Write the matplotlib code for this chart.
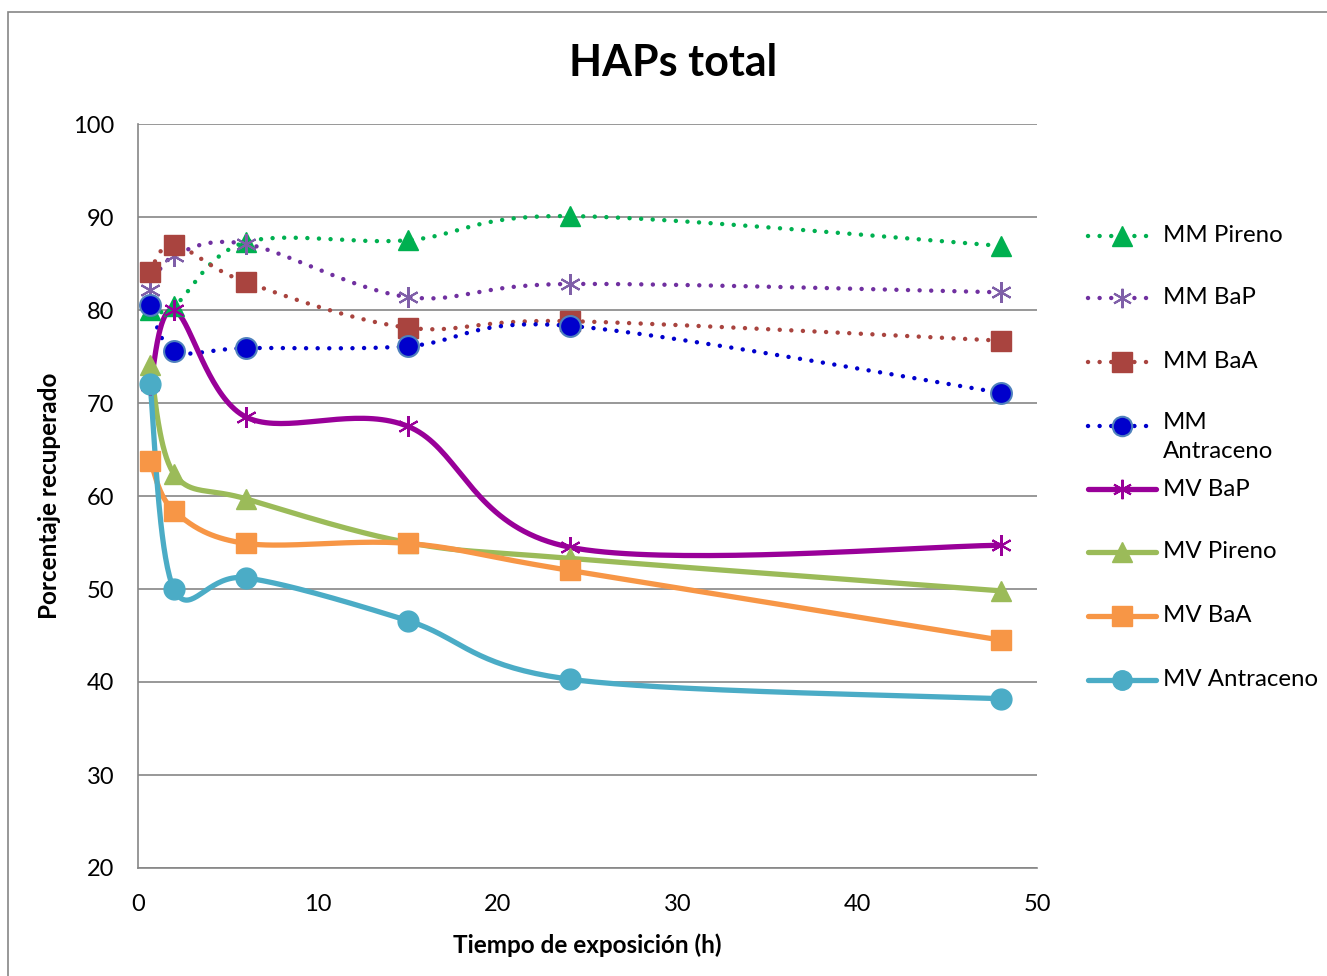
import numpy as np
import matplotlib
matplotlib.use("Agg")
import matplotlib.pyplot as plt
from matplotlib.lines import Line2D
from matplotlib.patches import Rectangle

plt.rcParams['font.family'] = ['Lato', 'DejaVu Sans']

# exposure times (h)
tiempo = [0.67, 2, 6, 15, 24, 48]

# percentage recovered per series
mm_pireno = [80.0, 80.4, 87.3, 87.5, 90.1, 86.9]
mm_bap = [82.2, 85.8, 87.1, 81.4, 82.8, 81.9]
mm_baa = [84.1, 87.0, 83.0, 78.1, 78.8, 76.7]
mm_antraceno = [80.5, 75.6, 75.9, 76.1, 78.3, 71.1]
mv_bap = [71.9, 80.0, 68.5, 67.5, 54.5, 54.7]
mv_pireno = [74.1, 62.4, 59.7, 55.0, 53.3, 49.8]
mv_baa = [63.8, 58.4, 54.9, 54.9, 52.0, 44.5]
mv_antraceno = [72.0, 50.0, 51.2, 46.6, 40.3, 38.2]

series = [
    ("MM Pireno", mm_pireno, "#00B050", "#00B050", "^", True),
    ("MM BaP", mm_bap, "#7030A0", "#7F5FA8", (6, 2, 0), True),
    ("MM BaA", mm_baa, "#A9443F", "#A9443F", "s", True),
    ("MM\nAntraceno", mm_antraceno, "#0000CC", "#0000CC", "o", True),
    ("MV BaP", mv_bap, "#990099", "#990099", (6, 2, 0), False),
    ("MV Pireno", mv_pireno, "#9BBB59", "#9BBB59", "^", False),
    ("MV BaA", mv_baa, "#F79646", "#F79646", "s", False),
    ("MV Antraceno", mv_antraceno, "#4BACC6", "#4BACC6", "o", False),
]


def smooth(xs, ys, n=40):
    """Bezier smoothing through every point (spreadsheet style)."""
    p = np.column_stack([xs, ys]).astype(float)
    out = []
    for i in range(len(p) - 1):
        p0 = p[max(i - 1, 0)]
        p1 = p[i]
        p2 = p[i + 1]
        p3 = p[min(i + 2, len(p) - 1)]
        c1 = p1 + (p2 - p0) / 6.0
        c2 = p2 - (p3 - p1) / 6.0
        t = np.linspace(0, 1, n)[:, None]
        seg = ((1 - t) ** 3) * p1 + 3 * ((1 - t) ** 2) * t * c1 \
            + 3 * (1 - t) * t ** 2 * c2 + t ** 3 * p2
        out.append(seg if i == 0 else seg[1:])
    seg = np.vstack(out)
    return seg[:, 0], seg[:, 1]


W, H = 1327, 976
fig = plt.figure(figsize=(W / 100, H / 100), dpi=100)
ax = fig.add_axes([138 / W, 1 - 868 / H, (1037 - 138) / W, (868 - 124) / H])

# outer chart frame
fig.add_artist(Rectangle((8 / W, -0.05), 1.1, 1 - 12 / H + 0.05, transform=fig.transFigure,
                         fill=False, ec="#868686", lw=1.2))

dotted = (0, (0.01, 2.6))
for label, vals, col, mcol, mk, mm in series:
    sx, sy = smooth(tiempo, vals)
    if mm:
        ax.plot(sx, sy, color=col, lw=3.2, linestyle=dotted, dash_capstyle="round", zorder=3)
    else:
        ax.plot(sx, sy, color=col, lw=3.8, solid_capstyle="round", zorder=3)

for label, vals, col, mcol, mk, mm in series:
    kw = dict(ms=14, mfc=mcol, mec=mcol)
    if mk == "o":
        kw.update(ms=15)
        if mm:
            kw.update(mec="#4F81BD", mew=1.5)
    if isinstance(mk, tuple):
        kw.update(ms=15, mew=1.5)
    ax.plot(tiempo, vals, linestyle="none", marker=mk, zorder=4, **kw)

ax.set_xlim(0, 50)
ax.set_ylim(20, 100)
ax.set_xticks(np.arange(0, 51, 10))
ax.set_yticks(np.arange(20, 101, 10))
ax.tick_params(length=0, labelsize=17)
ax.tick_params(axis="x", pad=19)
ax.tick_params(axis="y", pad=17)
ax.yaxis.grid(True, color="#868686", lw=1.2)
ax.set_axisbelow(True)
for s in ["top", "right"]:
    ax.spines[s].set_visible(False)
for s in ["left", "bottom"]:
    ax.spines[s].set_color("#868686")
    ax.spines[s].set_linewidth(1.2)

ax.set_xlabel("Tiempo de exposición (h)", fontsize=17.5, fontweight="bold", labelpad=13)
ax.set_ylabel("Porcentaje recuperado", fontsize=17.5, fontweight="bold", labelpad=9)
fig.text(673 / W, 1 - 63 / H, "HAPs total", fontsize=31, fontweight="bold",
         ha="center", va="center")

# legend on the right, one row per series
ly = [236, 298, 362, 426, 489, 552, 616, 680]
for (label, vals, col, mcol, mk, mm), y in zip(series, ly):
    yf = 1 - y / H
    if mm:
        ln = Line2D([1088 / W, 1156 / W], [yf, yf], transform=fig.transFigure, color=col,
                    lw=3.2, linestyle=dotted, dash_capstyle="round")
    else:
        ln = Line2D([1088 / W, 1156 / W], [yf, yf], transform=fig.transFigure, color=col,
                    lw=3.8, solid_capstyle="round")
    fig.add_artist(ln)
    kw = dict(ms=14, mfc=mcol, mec=mcol)
    if mk == "o" and mm:
        kw.update(mec="#4F81BD", mew=1.5)
    if isinstance(mk, tuple):
        kw.update(mew=1.5)
    fig.add_artist(Line2D([1122 / W], [yf], transform=fig.transFigure, marker=mk,
                          linestyle="none", **kw))
    if "\n" in label:
        fig.text(1163 / W, 1 - (y - 14) / H, label, fontsize=17.3, ha="left", va="top",
                 linespacing=1.45)
    else:
        fig.text(1163 / W, yf, label, fontsize=17.3, ha="left", va="center")

fig.savefig("out.png", dpi=100)
